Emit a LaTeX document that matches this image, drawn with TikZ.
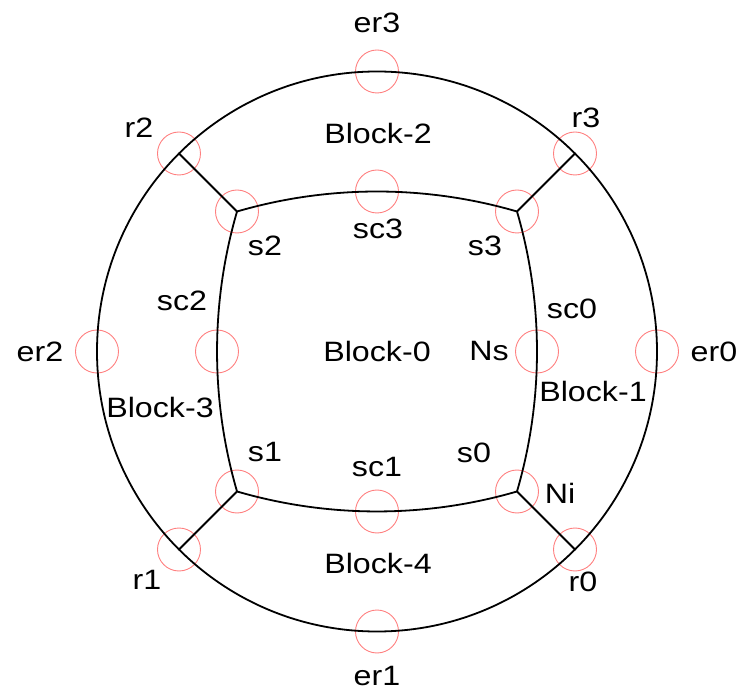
\documentclass[tikz,border=0pt]{standalone}
\usepackage{fontspec}
\setmainfont{Liberation Sans}[FakeStretch=1.15]
\begin{document}
\begin{tikzpicture}[x=1pt,y=1pt,
  wire/.style={line width=1.8pt, black},
  probe/.style={draw=red!50, line width=0.9pt, circle, minimum size=43pt, inner sep=0pt},
  lbl/.style={font=\fontsize{28}{32}\selectfont, inner sep=0pt, anchor=center}
]
\useasboundingbox (-377,-341.5) rectangle (370,351.5);

% sensing rings: outer circle, diagonal spokes, inner sides and corners
\node[probe] (p er0) at (280,0) {};
\node[probe] (p er1) at (0,-280) {};
\node[probe] (p er2) at (-280,0) {};
\node[probe] (p er3) at (0,280) {};
\node[probe] (p r0) at (198,-198) {};
\node[probe] (p r1) at (-198,-198) {};
\node[probe] (p r2) at (-198,198) {};
\node[probe] (p r3) at (198,198) {};
\node[probe] (p s0) at (140,-140) {};
\node[probe] (p s1) at (-140,-140) {};
\node[probe] (p s2) at (-140,140) {};
\node[probe] (p s3) at (140,140) {};
\node[probe] (p sc0) at (160,0) {};
\node[probe] (p sc1) at (0,-160) {};
\node[probe] (p sc2) at (-160,0) {};
\node[probe] (p sc3) at (0,160) {};

% outer boundary
\draw[wire] (0,0) circle[radius=280];

% inner block: four arcs of radius 500 through the corners
\draw[wire] (p s3.center) arc[start angle=73.74, end angle=106.26, radius=500]
  arc[start angle=163.74, end angle=196.26, radius=500]
  arc[start angle=253.74, end angle=286.26, radius=500]
  arc[start angle=-16.26, end angle=16.26, radius=500] -- cycle;

% spokes from inner corners to the outer circle
\draw[wire] (p s0.center) -- (p r0.center);
\draw[wire] (p s1.center) -- (p r1.center);
\draw[wire] (p s2.center) -- (p r2.center);
\draw[wire] (p s3.center) -- (p r3.center);

% labels
\node[lbl] (t er3) at (0,329) {er3};
\node[lbl] (t er1) at (0,-325) {er1};
\node[lbl] (t er2) at (-337,0) {er2};
\node[lbl] (t er0) at (337,0) {er0};
\node[lbl] (t r2) at (-238,224) {r2};
\node[lbl] (t r3) at (209,234) {r3};
\node[lbl] (t r1) at (-230,-228) {r1};
\node[lbl] (t r0) at (206,-230) {r0};
\node[lbl] (t b2) at (1,218) {Block-2};
\node[lbl] (t b4) at (1,-212) {Block-4};
\node[lbl] (t b3) at (-217,-56) {Block-3};
\node[lbl] (t b1) at (216,-40) {Block-1};
\node[lbl] (t b0) at (0,0) {Block-0};
\node[lbl] (t ns) at (112,0) {Ns};
\node[lbl] (t sc3) at (1,123) {sc3};
\node[lbl] (t sc1) at (0,-116) {sc1};
\node[lbl] (t sc2) at (-195,51) {sc2};
\node[lbl] (t sc0) at (195,43) {sc0};
\node[lbl] (t s2) at (-112,106) {s2};
\node[lbl] (t s3) at (108,106) {s3};
\node[lbl] (t s1) at (-112,-101) {s1};
\node[lbl] (t s0) at (97,-101) {s0};
\node[lbl] (t ni) at (183,-142) {Ni};
\end{tikzpicture}
\end{document}
